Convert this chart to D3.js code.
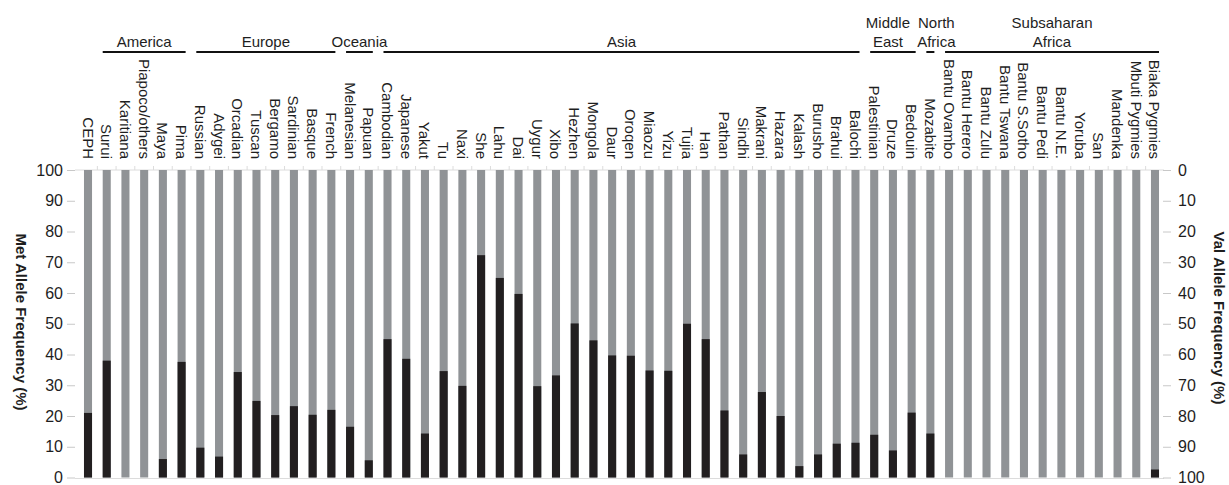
<!DOCTYPE html>
<html>
<head>
<meta charset="utf-8">
<script src="https://cdn.jsdelivr.net/npm/d3@7"></script>
<style>
  html, body { margin: 0; padding: 0; background: #fff; }
  svg { display: block; font-family: "Liberation Sans", Arial, sans-serif; }
</style>
</head>
<body>
<svg id="chart" width="1229" height="485"></svg>
<script>
// Populations, in plotting order
const populations = [
  "CEPH", "Surui", "Karitiana", "Piapoco/others", "Maya", "Pima",
  "Russian", "Adygei", "Orcadian", "Tuscan", "Bergamo", "Sardinian", "Basque", "French",
  "Melanesian", "Papuan",
  "Cambodian", "Japanese", "Yakut", "Tu", "Naxi", "She", "Lahu", "Dai", "Uygur", "Xibo",
  "Hezhen", "Mongola", "Daur", "Oroqen", "Miaozu", "Yizu", "Tujia", "Han", "Pathan",
  "Sindhi", "Makrani", "Hazara", "Kalash", "Burusho", "Brahui", "Balochi",
  "Palestinian", "Druze", "Bedouin",
  "Mozabite",
  "Bantu Ovambo", "Bantu Herero", "Bantu Zulu", "Bantu Tswana", "Bantu S.Sotho",
  "Bantu Pedi", "Bantu N.E.", "Yoruba", "San", "Mandenka", "Mbuti Pygmies", "Biaka Pygmies"
];

// Met allele frequency (%) per population; Val = 100 - Met
const metFreq = [
  21, 38, 0, 0, 6, 37.6,
  9.7, 6.8, 34.3, 24.9, 20.3, 23.2, 20.4, 22,
  16.5, 5.6,
  45, 38.6, 14.3, 34.6, 29.8, 72.3, 64.9, 59.7, 29.7, 33.2,
  50.1, 44.6, 39.7, 39.6, 34.8, 34.7, 50, 45, 21.8,
  7.5, 27.8, 20, 3.7, 7.5, 11, 11.3,
  13.9, 8.8, 21.1,
  14.3,
  0, 0, 0, 0, 0,
  0, 0, 0, 0, 0, 0, 2.6
];

// Geographic groups: label lines, first and last population of each
const groupNames = [["America"], ["Europe"], ["Oceania"], ["Asia"], ["Middle", "East"], ["North", "Africa"], ["Subsaharan", "Africa"]];
const groupFirst = ["Surui", "Russian", "Melanesian", "Cambodian", "Palestinian", "Mozabite", "Bantu Ovambo"];
const groupLast = ["Pima", "French", "Papuan", "Balochi", "Bedouin", "Mozabite", "Biaka Pygmies"];

const freqTicks = [0, 10, 20, 30, 40, 50, 60, 70, 80, 90, 100];

const svg = d3.select("#chart");
const plotTop = 170, plotBottom = 477.5;
const plotLeft = 75, plotRight = 1168;

const x = d3.scaleBand()
  .domain(populations)
  .range([plotLeft, plotRight])
  .paddingInner(0.57)
  .paddingOuter(0.48);

const y = d3.scaleLinear().domain([0, 100]).range([plotBottom, plotTop]);
const yVal = d3.scaleLinear().domain([100, 0]).range([plotBottom, plotTop]);

const grey = "#909396";
const dark = "#221f20";
const ink = "#1e1e1e";

// faint frame lines with category boundary ticks
const frame = svg.append("g").attr("stroke", "#dcdcdc").attr("stroke-width", 1);
frame.append("line").attr("x1", plotLeft).attr("x2", plotRight - 4).attr("y1", plotTop).attr("y2", plotTop);
frame.append("line").attr("x1", plotLeft).attr("x2", plotRight - 4).attr("y1", plotBottom + 1).attr("y2", plotBottom + 1);
const bounds = populations.slice(1).map(p => x(p) - x.step() * x.paddingInner() / 2);
frame.selectAll("line.tk").data(bounds).enter().append("line")
  .attr("class", "tk")
  .attr("x1", d => d).attr("x2", d => d)
  .attr("y1", plotTop).attr("y2", plotTop - 4);

// Val (grey) full column, Met (black) on the bottom
svg.append("g").selectAll("rect").data(populations).enter().append("rect")
  .attr("x", d => x(d))
  .attr("width", x.bandwidth())
  .attr("y", y(100))
  .attr("height", y(0) - y(100))
  .attr("fill", grey);

svg.append("g").selectAll("rect").data(populations.map((p, i) => [p, metFreq[i]]).filter(d => d[1] > 0))
  .enter().append("rect")
  .attr("x", d => x(d[0]))
  .attr("width", x.bandwidth())
  .attr("y", d => y(d[1]))
  .attr("height", d => y(0) - y(d[1]))
  .attr("fill", dark);

// left axis (Met)
const axL = svg.append("g").attr("transform", `translate(${plotLeft},0)`)
  .call(d3.axisLeft(y).tickValues(freqTicks).tickSize(8).tickPadding(4));
axL.select(".domain").remove();
axL.selectAll(".tick line").attr("stroke", "#c8c8c8");
axL.selectAll(".tick text").attr("fill", ink).style("font-size", "16px");

// right axis (Val)
const axR = svg.append("g").attr("transform", `translate(${plotRight - 5},0)`)
  .call(d3.axisRight(yVal).tickValues(freqTicks).tickSize(8).tickPadding(7));
axR.select(".domain").remove();
axR.selectAll(".tick line").attr("stroke", "#c8c8c8");
axR.selectAll(".tick text").attr("fill", ink).style("font-size", "16px");

// axis titles
svg.append("text")
  .attr("transform", `translate(20,322) rotate(90)`)
  .attr("text-anchor", "middle").attr("dominant-baseline", "middle")
  .attr("font-weight", "bold").attr("font-size", 15).attr("fill", ink)
  .text("Met Allele Frequency (%)");
svg.append("text")
  .attr("transform", `translate(1218,318) rotate(90)`)
  .attr("text-anchor", "middle").attr("dominant-baseline", "middle")
  .attr("font-weight", "bold").attr("font-size", 15).attr("fill", ink)
  .text("Val Allele Frequency (%)");

// population labels, reading downward and ending just above the plot
svg.append("g").selectAll("text").data(populations).enter().append("text")
  .attr("transform", d => `translate(${x(d) + x.bandwidth() / 2},159) rotate(90)`)
  .attr("text-anchor", "end")
  .attr("dominant-baseline", "central")
  .attr("font-size", 15).attr("fill", ink)
  .text(d => d);

// group brackets and labels
const labelShift = [0, 0, 0, 0, -5, 6, 0];
const groups = svg.append("g");
groupNames.forEach((name, i) => {
  const x1 = x(groupFirst[i]);
  const x2 = x(groupLast[i]) + x.bandwidth();
  groups.append("line")
    .attr("x1", x1).attr("x2", x2).attr("y1", 52).attr("y2", 52)
    .attr("stroke", "#111").attr("stroke-width", 2);
  const cx = (x1 + x2) / 2 + labelShift[i];
  name.forEach((line, j) => {
    groups.append("text")
      .attr("x", cx)
      .attr("y", 47 - (name.length - 1 - j) * 19)
      .attr("text-anchor", "middle")
      .attr("font-size", 15).attr("fill", ink)
      .text(line);
  });
});
</script>
</body>
</html>
